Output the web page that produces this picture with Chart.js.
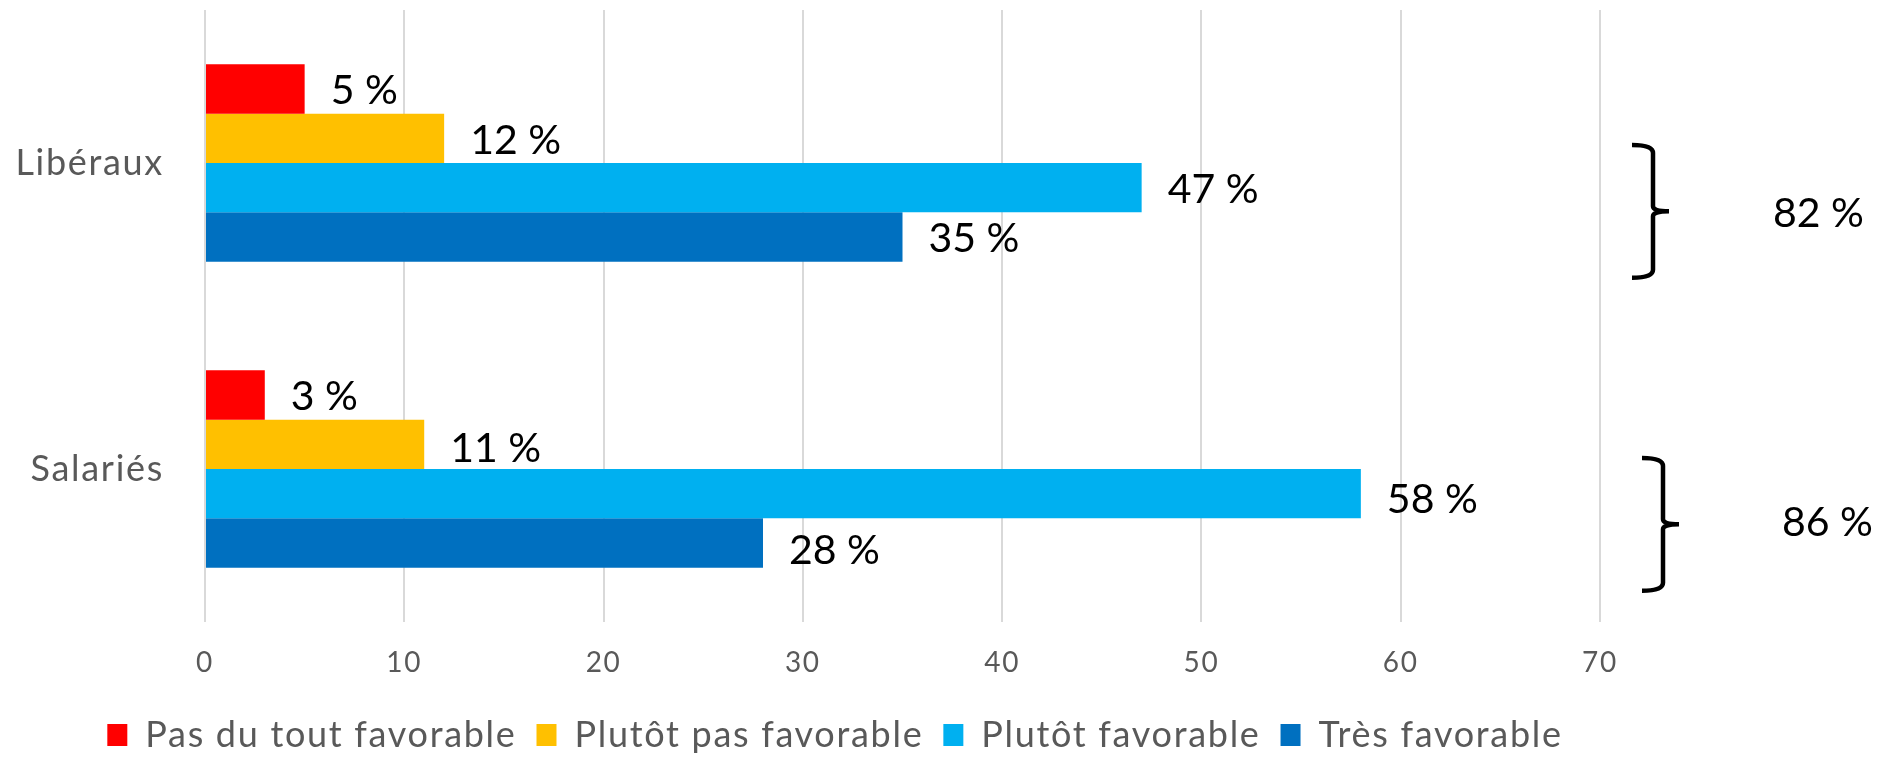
<!DOCTYPE html>
<html>
<head>
<meta charset="utf-8">
<script src="https://cdn.jsdelivr.net/npm/chart.js@4/dist/chart.umd.min.js"></script>
<style>
  html, body { margin: 0; padding: 0; background: #fff; }
  #wrap { width: 1890px; height: 757px; }
</style>
</head>
<body>
<div id="wrap"><canvas id="avisChart" width="1890" height="757"></canvas></div>
<script>
const categories = ['Libéraux', 'Salariés'];
const seriesNames = ['Pas du tout favorable', 'Plutôt pas favorable', 'Plutôt favorable', 'Très favorable'];
const pasDuTout = [5, 3];
const plutotPas = [12, 11];
const plutotFav = [47, 58];
const tresFav = [35, 28];
const totalFavorable = [82, 86];
const xTicks = [0, 10, 20, 30, 40, 50, 60, 70];

const couleurs = ['#FF0000', '#FFC000', '#00B0F0', '#0070C0'];
const FONT = 'Lato';

// espacement des lettres (texte Excel assez large)
const espacePlugin = {
    id: 'espace',
    beforeUpdate(chart) { chart.ctx.letterSpacing = '1.7px'; },
    beforeDraw(chart) { chart.ctx.letterSpacing = '1.7px'; }
};

// etiquettes "xx %" a droite des barres
const valeursPlugin = {
    id: 'valeurs',
    afterDatasetsDraw(chart) {
        const ctx = chart.ctx;
        ctx.save();
        ctx.letterSpacing = '0px';
        ctx.font = '41px ' + FONT;
        ctx.fillStyle = '#000';
        ctx.textAlign = 'left';
        ctx.textBaseline = 'middle';
        chart.data.datasets.forEach((ds, i) => {
            chart.getDatasetMeta(i).data.forEach((bar, j) => {
                const dy = j === 1 ? 2 + i * 2 : 2;
                ctx.fillText(ds.data[j] + ' %', bar.x + 26, bar.y + dy);
            });
        });
        ctx.restore();
    }
};

// accolades + total favorable
const accoladePlugin = {
    id: 'accolade',
    afterDraw(chart) {
        const ctx = chart.ctx;
        const right = chart.chartArea.right;
        const m2 = chart.getDatasetMeta(2).data;
        const m3 = chart.getDatasetMeta(3).data;
        const shiftX = [0, 10];
        const shiftY = [0, 7];
        ctx.save();
        ctx.letterSpacing = '0px';
        ctx.strokeStyle = '#000';
        ctx.lineWidth = 4.5;
        categories.forEach((c, j) => {
            const top = m2[j].y - m2[j].height / 2 - 18 + shiftY[j];
            const bottom = m3[j].y + m3[j].height / 2 + 16 + shiftY[j];
            const mid = (top + bottom) / 2;
            const x0 = right + 32 + shiftX[j];
            const xv = x0 + 21;
            const xt = xv + 16;
            ctx.beginPath();
            ctx.moveTo(x0, top);
            ctx.quadraticCurveTo(xv, top, xv, top + 8);
            ctx.lineTo(xv, mid - 5);
            ctx.quadraticCurveTo(xv, mid, xt, mid);
            ctx.moveTo(xt, mid);
            ctx.quadraticCurveTo(xv, mid, xv, mid + 5);
            ctx.lineTo(xv, bottom - 8);
            ctx.quadraticCurveTo(xv, bottom, x0, bottom);
            ctx.stroke();

            ctx.font = '41px ' + FONT;
            ctx.fillStyle = '#000';
            ctx.textAlign = 'left';
            ctx.textBaseline = 'middle';
            ctx.fillText(totalFavorable[j] + ' %', right + 173 + shiftX[j] * 0.9, mid + 2 - shiftY[j] / 2);
        });
        ctx.restore();
    }
};

const series = [pasDuTout, plutotPas, plutotFav, tresFav];

new Chart(document.getElementById('avisChart'), {
    type: 'bar',
    data: {
        labels: categories,
        datasets: series.map((vals, i) => ({
            label: seriesNames[i],
            data: vals,
            backgroundColor: couleurs[i],
            borderWidth: 0,
            categoryPercentage: 0.645,
            barPercentage: 1
        }))
    },
    options: {
        indexAxis: 'y',
        responsive: false,
        animation: false,
        layout: { padding: { left: 0, right: 220, top: 10, bottom: -6 } },
        scales: {
            x: {
                min: 0,
                max: 70,
                afterBuildTicks: s => { s.ticks = xTicks.map(v => ({ value: v })); },
                afterFit: s => { s.height = 75; },
                grid: { color: '#d9d9d9', lineWidth: 2, drawTicks: false },
                border: { display: false },
                ticks: { color: '#595959', font: { family: FONT, size: 28 }, padding: 24 }
            },
            y: {
                afterFit: s => { s.width = 205; s.paddingTop = 0; s.paddingBottom = 0; },
                grid: { display: false, drawTicks: false },
                border: { display: false },
                ticks: { color: '#595959', font: { family: FONT, size: 36 }, padding: 41 }
            },
            yDroite: {
                type: 'linear',
                position: 'right',
                afterFit: s => { s.width = 70; s.paddingTop = 0; s.paddingBottom = 0; },
                grid: { display: false, drawTicks: false },
                border: { display: false },
                ticks: { display: false }
            }
        },
        plugins: {
            legend: {
                position: 'bottom',
                labels: {
                    color: '#595959',
                    font: { family: FONT, size: 36 },
                    boxWidth: 20,
                    boxHeight: 22,
                    padding: 20
                }
            },
            tooltip: { enabled: false }
        }
    },
    plugins: [espacePlugin, valeursPlugin, accoladePlugin]
});
</script>
</body>
</html>
